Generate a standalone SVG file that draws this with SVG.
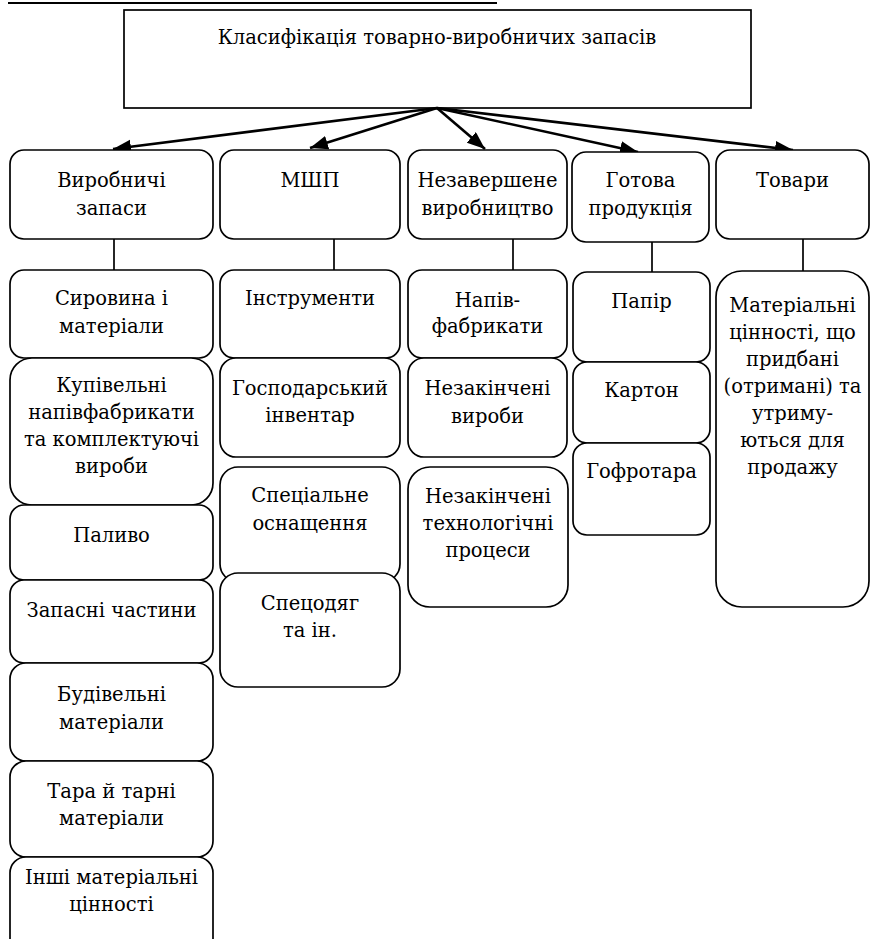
<svg xmlns="http://www.w3.org/2000/svg" width="871" height="939" viewBox="0 0 871 939">
<style>
.b{fill:#fff;stroke:#000;stroke-width:1.7}
.t{font-family:'DejaVu Serif','Liberation Serif',serif;font-size:19.5px;fill:#000;text-anchor:middle}
.c{stroke:#000;stroke-width:1.7;fill:none}
.a{stroke:#000;stroke-width:2.6;fill:none}
</style>
<defs>
<marker id="ah" markerUnits="userSpaceOnUse" markerWidth="20" markerHeight="16" refX="18" refY="7" orient="auto">
<path d="M0,0 L18,7 L0,14 Z" fill="#000"/>
</marker>
</defs>
<line x1="8" y1="3" x2="497" y2="3" stroke="#000" stroke-width="2"/>
<g id="root">
<rect class="b" x="124" y="10" width="627" height="98"/>
<text class="t" x="437" y="44">Класифікація товарно-виробничих запасів</text>
</g>
<g id="connectors">
<line class="a" x1="437" y1="108" x2="113" y2="149" marker-end="url(#ah)"/>
<line class="a" x1="437" y1="108" x2="310" y2="148" marker-end="url(#ah)"/>
<line class="a" x1="437" y1="108" x2="485" y2="149" marker-end="url(#ah)"/>
<line class="a" x1="437" y1="108" x2="638" y2="152" marker-end="url(#ah)"/>
<line class="a" x1="437" y1="108" x2="793" y2="150" marker-end="url(#ah)"/>
<line class="c" x1="114" y1="239" x2="114" y2="270"/>
<line class="c" x1="334" y1="239" x2="334" y2="270"/>
<line class="c" x1="513" y1="239" x2="513" y2="270"/>
<line class="c" x1="652" y1="242" x2="652" y2="272"/>
<line class="c" x1="803" y1="239" x2="803" y2="271"/>
</g>
<g id="vyrobnychi">
<rect class="b" x="10" y="150" width="203" height="89" rx="14"/>
<text class="t" x="111.5" y="187">Виробничі</text>
<text class="t" x="111.5" y="215">запаси</text>
</g>
<g id="mshp">
<rect class="b" x="220" y="150" width="180" height="89" rx="14"/>
<text class="t" x="310" y="187">МШП</text>
</g>
<g id="nezavershene">
<rect class="b" x="408" y="150" width="159" height="89" rx="14"/>
<text class="t" x="487.5" y="187">Незавершене</text>
<text class="t" x="487.5" y="215">виробництво</text>
</g>
<g id="gotova">
<rect class="b" x="572" y="152" width="137" height="90" rx="14"/>
<text class="t" x="640.5" y="187">Готова</text>
<text class="t" x="640.5" y="215">продукція</text>
</g>
<g id="tovary">
<rect class="b" x="716" y="150" width="153" height="89" rx="14"/>
<text class="t" x="792.5" y="187">Товари</text>
</g>
<g id="syrovyna">
<rect class="b" x="10" y="270" width="203" height="88" rx="14"/>
<text class="t" x="111.5" y="305">Сировина і</text>
<text class="t" x="111.5" y="333">матеріали</text>
</g>
<g id="kupivelni">
<rect class="b" x="10" y="358" width="203" height="147" rx="22"/>
<text class="t" x="111.5" y="392">Купівельні</text>
<text class="t" x="111.5" y="419">напівфабрикати</text>
<text class="t" x="111.5" y="446">та комплектуючі</text>
<text class="t" x="111.5" y="473">вироби</text>
</g>
<g id="palyvo">
<rect class="b" x="10" y="505" width="203" height="75" rx="14"/>
<text class="t" x="111.5" y="542">Паливо</text>
</g>
<g id="zapasni">
<rect class="b" x="10" y="580" width="203" height="83" rx="14"/>
<text class="t" x="111.5" y="617">Запасні частини</text>
</g>
<g id="budivelni">
<rect class="b" x="10" y="663" width="203" height="98" rx="16"/>
<text class="t" x="111.5" y="701">Будівельні</text>
<text class="t" x="111.5" y="729">матеріали</text>
</g>
<g id="tara">
<rect class="b" x="10" y="761" width="203" height="96" rx="16"/>
<text class="t" x="111.5" y="798">Тара й тарні</text>
<text class="t" x="111.5" y="825">матеріали</text>
</g>
<g id="inshi">
<rect class="b" x="10" y="857" width="203" height="100" rx="16"/>
<text class="t" x="111.5" y="884">Інші матеріальні</text>
<text class="t" x="111.5" y="911">цінності</text>
</g>
<g id="instrumenty">
<rect class="b" x="220" y="270" width="180" height="88" rx="14"/>
<text class="t" x="310" y="305">Інструменти</text>
</g>
<g id="hospodarskyi">
<rect class="b" x="220" y="358" width="180" height="99" rx="16"/>
<text class="t" x="310" y="395">Господарський</text>
<text class="t" x="310" y="422">інвентар</text>
</g>
<g id="spetsialne">
<rect class="b" x="220" y="467" width="180" height="115" rx="18"/>
<text class="t" x="310" y="502">Спеціальне</text>
<text class="t" x="310" y="530">оснащення</text>
</g>
<g id="spetsodiah">
<rect class="b" x="220" y="573" width="180" height="114" rx="18"/>
<text class="t" x="310" y="610">Спецодяг</text>
<text class="t" x="310" y="637">та ін.</text>
</g>
<g id="napivfabrykaty">
<rect class="b" x="408" y="270" width="159" height="88" rx="14"/>
<text class="t" x="487.5" y="307">Напів-</text>
<text class="t" x="487.5" y="333">фабрикати</text>
</g>
<g id="nezakincheni-vyroby">
<rect class="b" x="408" y="358" width="159" height="99" rx="16"/>
<text class="t" x="487.5" y="395">Незакінчені</text>
<text class="t" x="487.5" y="423">вироби</text>
</g>
<g id="nezakincheni-protsesy">
<rect class="b" x="408" y="467" width="160" height="140" rx="22"/>
<text class="t" x="488" y="503">Незакінчені</text>
<text class="t" x="488" y="530">технологічні</text>
<text class="t" x="488" y="557">процеси</text>
</g>
<g id="papir">
<rect class="b" x="573" y="272" width="137" height="90" rx="14"/>
<text class="t" x="641.5" y="308">Папір</text>
</g>
<g id="karton">
<rect class="b" x="573" y="362" width="137" height="81" rx="14"/>
<text class="t" x="641.5" y="397">Картон</text>
</g>
<g id="hofrotara">
<rect class="b" x="573" y="443" width="137" height="92" rx="14"/>
<text class="t" x="641.5" y="478">Гофротара</text>
</g>
<g id="materialni">
<rect class="b" x="716" y="271" width="153" height="336" rx="26"/>
<text class="t" x="792.5" y="312">Матеріальні</text>
<text class="t" x="792.5" y="339">цінності, що</text>
<text class="t" x="792.5" y="366">придбані</text>
<text class="t" x="792.5" y="393">(отримані) та</text>
<text class="t" x="792.5" y="420">утриму-</text>
<text class="t" x="792.5" y="447">ються для</text>
<text class="t" x="792.5" y="474">продажу</text>
</g>
</svg>
